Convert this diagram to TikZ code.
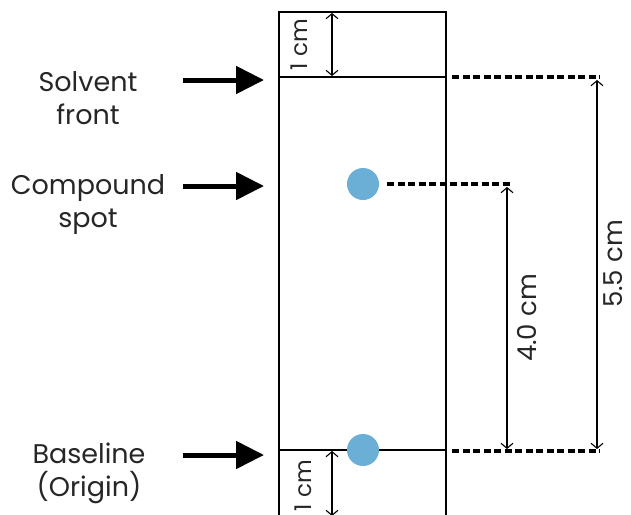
\documentclass[tikz,border=0pt]{standalone}
\usepackage{fontspec}
\setmainfont{Poppins}
\usetikzlibrary{arrows.meta}
\definecolor{spotblue}{HTML}{6BAED6}
\tikzset{
  plate/.style={line width=1.3pt, black},
  pointer/.style={line width=5pt, -{Triangle[length=28pt,width=27pt]}},
  dimarrow/.style={line width=1.1pt, {Straight Barb[length=5pt,width=12pt]}-{Straight Barb[length=5pt,width=12pt]}},
  guide/.style={line width=3.5pt, dash pattern=on 7pt off 3.5pt},
  spot/.style={circle, fill=spotblue, minimum size=32pt, inner sep=0pt},
  lbl/.style={align=center, font=\fontsize{27}{33}\selectfont, text=black!85},
  dimlbl/.style={rotate=90, font=\fontsize{23}{28}\selectfont, text=black!85, inner sep=0pt},
  bigdimlbl/.style={dimlbl, font=\fontsize{26}{30}\selectfont}
}
\begin{document}
\begin{tikzpicture}[x=1pt,y=-1pt]
\useasboundingbox (0,0) rectangle (631,514);
% plate
\coordinate (pTL) at (279,12);
\coordinate (pTR) at (446,12);
\coordinate (pBL) at (279,520);
\coordinate (pBR) at (446,520);
\draw[plate] (pBL) -- (pTL) -- (pTR) -- (pBR);
\coordinate (sfL) at (279,77);
\coordinate (sfR) at (446,77);
\coordinate (blL) at (279,450);
\coordinate (blR) at (446,450);
\draw[plate] (sfL) -- (sfR);
\draw[plate] (blL) -- (blR);
% spots
\node[spot] (cspot) at (363,184) {};
\node[spot] (bspot) at (363,450) {};
% 1 cm arrows
\coordinate (t1a) at (332,13);
\coordinate (t1b) at (332,76);
\draw[dimarrow] (t1a) -- (t1b);
\node[dimlbl] (t1l) at (299,45) {1\hspace{0.3em}cm};
\coordinate (b1a) at (332,451);
\coordinate (b1b) at (332,516);
\draw[dimarrow] (b1a) -- (b1b);
\node[dimlbl] (b1l) at (303,486) {1\hspace{0.3em}cm};
% guides
\coordinate (g1a) at (452,77);
\coordinate (g1b) at (600,77);
\coordinate (g2b) at (510,184);
\coordinate (g3a) at (452,451);
\coordinate (g3b) at (600,451);
\draw[guide] (g1a) -- (g1b);
\path (cspot.east) ++(8,0) coordinate (g2a);
\draw[guide] (g2a) -- (g2b);
\draw[guide] (g3a) -- (g3b);
% dimension arrows
\coordinate (d4a) at (507,187);
\coordinate (d4b) at (507,449);
\coordinate (d5a) at (597,80);
\coordinate (d5b) at (597,449);
\draw[dimarrow] (d4a) -- (d4b);
\draw[dimarrow] (d5a) -- (d5b);
\node[bigdimlbl] (d4l) at (527,318) {4.0 cm};
\node[bigdimlbl] (d5l) at (613,264) {5.5 cm};
% labels and pointers
\node[lbl] (lsf) at (88,98) {Solvent\\front};
\node[lbl] (lcs) at (88,205) {Compound\\spot};
\node[lbl] (lbl2) at (89,473) {Baseline\\(Origin)};
\coordinate (a1s) at (183,80);
\coordinate (a1e) at (264,80);
\coordinate (a2s) at (183,186);
\coordinate (a2e) at (264,186);
\coordinate (a3s) at (183,455);
\coordinate (a3e) at (264,455);
\draw[pointer] (a1s) -- (a1e);
\draw[pointer] (a2s) -- (a2e);
\draw[pointer] (a3s) -- (a3e);
\end{tikzpicture}
\end{document}
